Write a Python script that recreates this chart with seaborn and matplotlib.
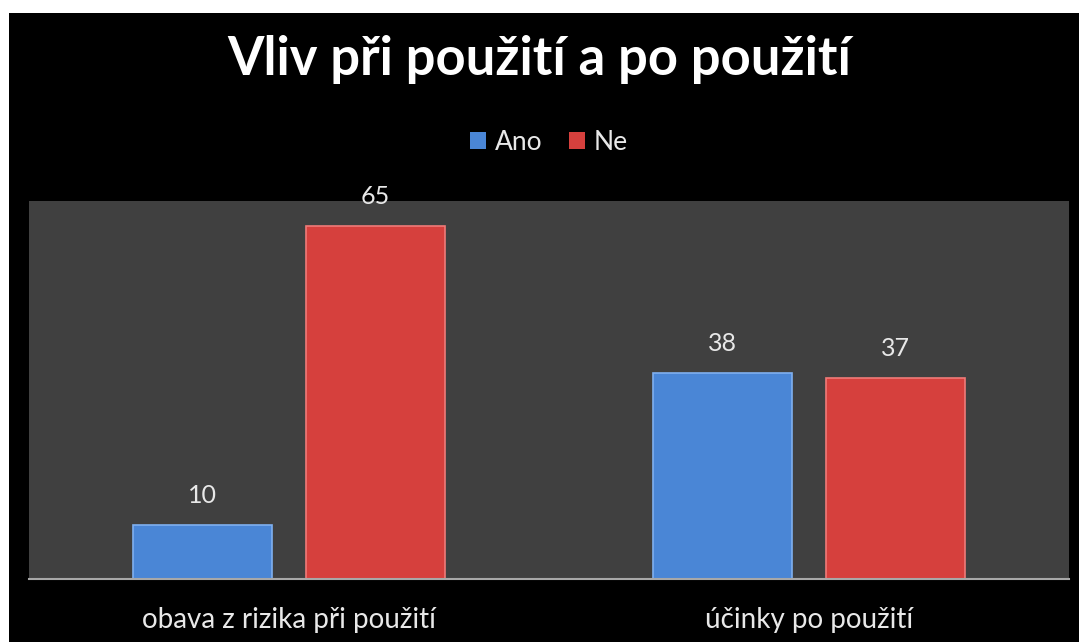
import matplotlib
matplotlib.use("Agg")
import matplotlib.pyplot as plt
import seaborn as sns
import pandas as pd
from matplotlib.patches import Rectangle

categories = ["obava z rizika při použití", "účinky po použití"]
series_names = ["Ano", "Ne"]
ano_values = [10, 38]
ne_values = [65, 37]
title = "Vliv při použití a po použití"

df = pd.DataFrame({
    "kategorie": categories * 2,
    "serie": [series_names[0]] * 2 + [series_names[1]] * 2,
    "hodnota": ano_values + ne_values,
})

sns.set_theme(style="dark")
plt.rcParams["font.family"] = ["Lato", "DejaVu Sans"]

W, H = 1079, 642
fig = plt.figure(figsize=(W / 100, H / 100), dpi=100, facecolor="white")
fig.patches.append(Rectangle((9 / W, 0), 1 - 9 / W, 1 - 13 / H, transform=fig.transFigure,
                             facecolor="black", edgecolor="none", zorder=-10))

ax = fig.add_axes([29 / W, (H - 579) / H, (1069 - 29) / W, (579 - 201) / H])
ax.set_facecolor("#404040")

palette = {"Ano": "#4a86d6", "Ne": "#d6403d"}
sns.barplot(data=df, x="kategorie", y="hodnota", hue="serie", palette=palette,
            width=2 / 3, gap=0.2, ax=ax, saturation=1, edgecolor="none", legend=True)

# subtle bevel highlight on each bar
for c, col in zip(ax.containers, ["#7fb0f0", "#f07a78"]):
    for p in c.patches:
        p.set_edgecolor(col)
        p.set_linewidth(1.2)

ax.set_ylim(0, 69.6)
ax.set_xlim(-0.5, 1.5)
ax.set_yticks([])
ax.set_xlabel("")
ax.set_ylabel("")
ax.grid(False)
for s in ["top", "right", "left"]:
    ax.spines[s].set_visible(False)
ax.spines["bottom"].set_color("#a8a8a8")
ax.spines["bottom"].set_linewidth(1.5)
ax.tick_params(axis="x", colors="#e8e8e8", labelsize=20, length=0, pad=20)

for c in ax.containers:
    ax.bar_label(c, fmt="%d", color="#e8e8e8", fontsize=18, padding=13)

leg = ax.legend(loc="center", bbox_to_anchor=(0.5, (579 - 142) / (579 - 201)), ncol=2,
                frameon=False, fontsize=19, handlelength=0.6, handleheight=0.6,
                handletextpad=0.35, columnspacing=1.0)
for t in leg.get_texts():
    t.set_color("#e8e8e8")

fig.text(0.5, (H - 60) / H, title, ha="center", va="center", color="white",
         fontsize=37.8, fontweight="bold")

fig.savefig("out.png", dpi=100, facecolor=fig.get_facecolor())
